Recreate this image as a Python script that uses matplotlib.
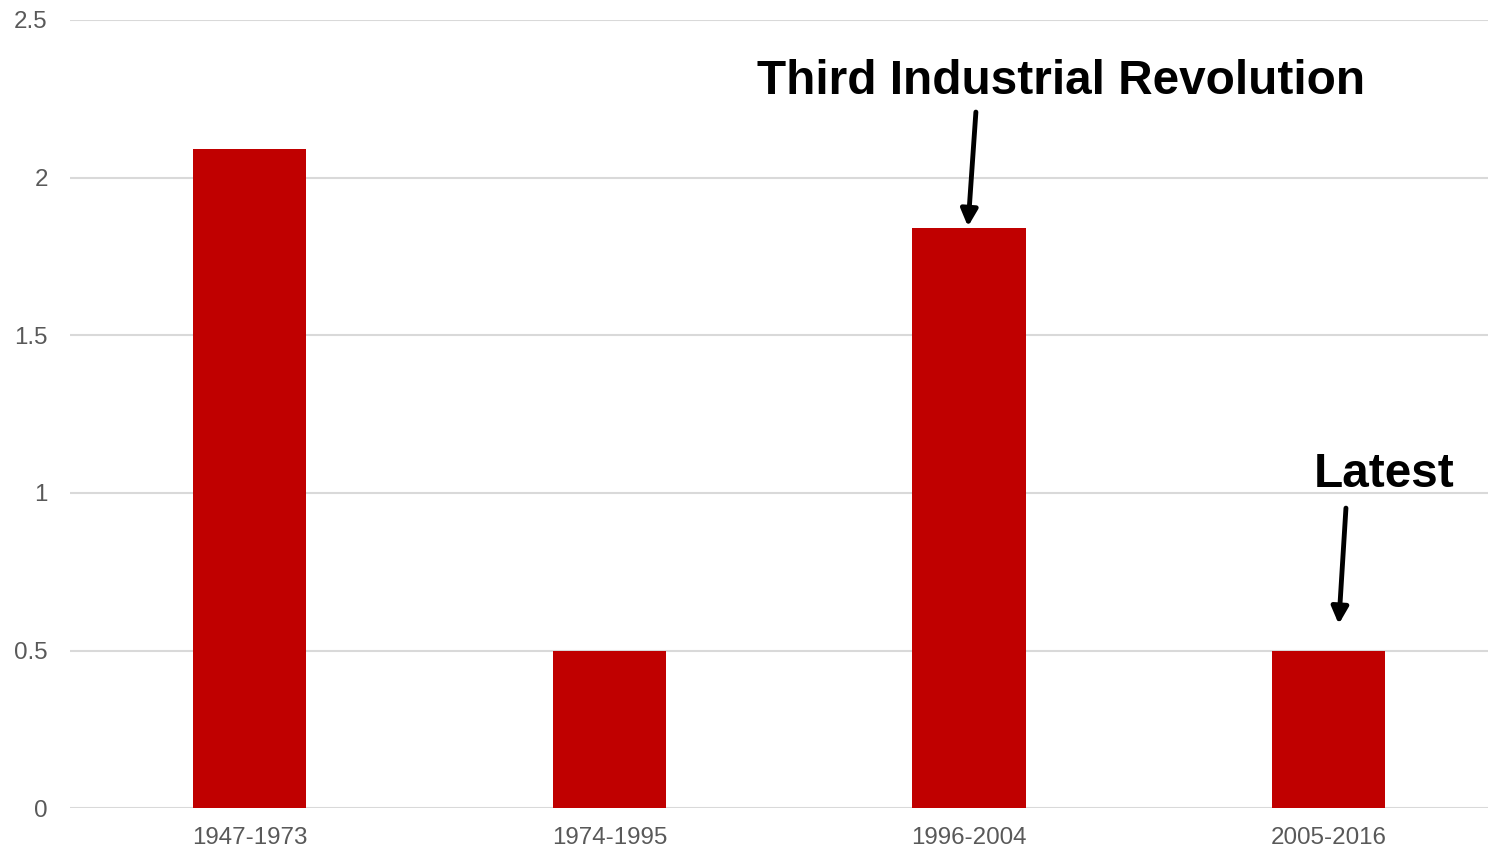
import matplotlib.pyplot as plt

# Productivity growth by period
periods = ["1947-1973", "1974-1995", "1996-2004", "2005-2016"]
growth = [2.09, 0.50, 1.84, 0.50]
y_ticks = [0, 0.5, 1, 1.5, 2, 2.5]
y_tick_labels = ["0", "0.5", "1", "1.5", "2", "2.5"]

plt.rcParams['font.family'] = ['Liberation Sans', 'DejaVu Sans']

fig = plt.figure(figsize=(14.88, 8.49), dpi=100)
ax = fig.add_axes([70 / 1488, 1 - 808.3 / 849, 1418 / 1488, (808.3 - 20) / 849])

x = list(range(len(periods)))
ax.bar(x, growth, width=0.315, color="#c00000", zorder=3)

ax.set_xlim(-0.5, 3.443)
ax.set_ylim(0, 2.5)
ax.set_yticks(y_ticks)
ax.set_yticklabels(y_tick_labels)
ax.set_xticks(x)
ax.set_xticklabels(periods)
ax.tick_params(axis="both", length=0, labelsize=17.4, labelcolor="#595959")
ax.tick_params(axis="y", pad=16)
ax.tick_params(axis="x", pad=13.5)
ax.grid(axis="y", color="#d9d9d9", linewidth=1.5, zorder=0)
ax.set_axisbelow(True)
for spine in ax.spines.values():
    spine.set_visible(False)

# Callouts
arrow = dict(arrowstyle="-|>,head_length=1.0,head_width=0.5", color="black",
             lw=3.5, shrinkA=0, shrinkB=0)
ax.annotate("", xy=(1.997, growth[2] + 0.005), xytext=(2.019, 2.208),
            arrowprops=arrow, zorder=5)
ax.text(2.255, 2.265, "Third Industrial Revolution", ha="center", va="baseline",
        fontsize=34.4, fontweight="bold", color="black")

ax.annotate("", xy=(3.028, 0.584), xytext=(3.048, 0.952),
            arrowprops=arrow, zorder=5)
ax.text(3.153, 1.02, "Latest", ha="center", va="baseline",
        fontsize=34.4, fontweight="bold", color="black")

fig.savefig("out.png", dpi=100)
